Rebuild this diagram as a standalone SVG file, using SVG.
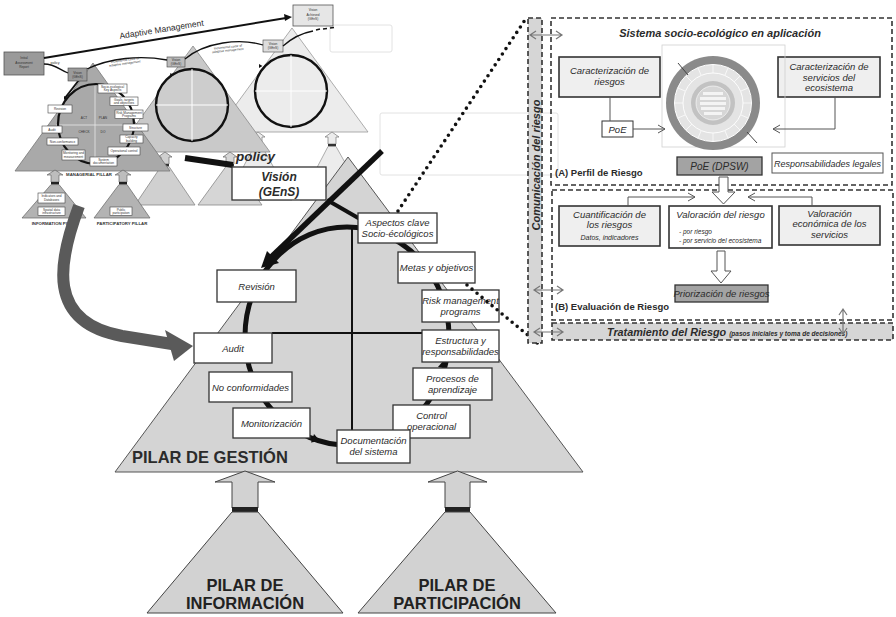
<svg xmlns="http://www.w3.org/2000/svg" xmlns:xlink="http://www.w3.org/1999/xlink" width="896" height="617" viewBox="0 0 896 617">
<defs>
<style>
text{font-family:'Liberation Sans',Arial,sans-serif;fill:#2b2b2b}
.bx{fill:#fff;stroke:#333;stroke-width:1.3}
.bxg{fill:#efefef;stroke:#333;stroke-width:1.6}
.t{font-size:9.5px;font-style:italic;text-anchor:middle}
.ts{font-size:7px;font-style:italic}
.bi{font-weight:bold;font-style:italic}
.big{font-size:16.5px;font-weight:bold;text-anchor:middle;fill:#222}
.sb{fill:#fff;stroke:#444;stroke-width:.6}
.sbd{fill:#9a9a9a;stroke:#444;stroke-width:.6}
.st{font-size:3.2px;text-anchor:middle;fill:#333}
.dash{fill:none;stroke:#333;stroke-width:1.6;stroke-dasharray:5 3}
.open{fill:none;stroke:#777;stroke-width:1.2}
.conn{fill:none;stroke:#555;stroke-width:1}
.loop{fill:none;stroke:#111;stroke-width:5}
.dots{fill:none;stroke:#111;stroke-width:3.6;stroke-linecap:round;stroke-dasharray:0 6.5}
.pil{fill:#d2d2d2;stroke:#444;stroke-width:1}
.faint{fill:none;stroke:#e2e2e2;stroke-width:1}
</style>
<path id="ah" d="M0,0 L-8,-4.5 L-8,4.5 Z" fill="#111"/>
<path id="sah" d="M0,0 L-3.5,-2 L-3.5,2 Z" fill="#111"/>
</defs>

<rect width="896" height="617" fill="#fff"/>

<!-- faint frames left over behind the drawing -->
<rect class="faint" x="380" y="113" width="178" height="62" rx="2"/>
<rect class="faint" x="330" y="25" width="62" height="27" rx="2"/>

<!-- ===== Adaptive management overview (top left) ===== -->
<g id="iteration-3">
  <polygon points="292,28 216,132 368,132" fill="#ececec" stroke="#999" stroke-width=".8"/>
  <circle cx="291" cy="91" r="36" fill="#ececec" stroke="#111" stroke-width="2.4"/>
  <line x1="255" y1="91" x2="327" y2="91" stroke="#fff" stroke-width="1"/>
  <line x1="291" y1="55" x2="291" y2="127" stroke="#fff" stroke-width="1"/>
  <polygon points="332,132 339,137 336,137 336,144 328,144 328,137 325,137" fill="#ececec" stroke="#777" stroke-width=".7"/>
  <rect x="328" y="144" width="8" height="2.5" fill="#333"/>
  <polygon points="328,146.5 336,146.5 366,200 300,200" fill="#ececec" stroke="#999" stroke-width=".8"/>
  <polygon points="258,132 265,137 262,137 262,144 254,144 254,137 251,137" fill="#ececec" stroke="#777" stroke-width=".7"/>
  <polygon points="254,146.5 262,146.5 292,200 226,200" fill="#ececec" stroke="#999" stroke-width=".8"/>
  <rect class="sb" x="263" y="40" width="20" height="12" style="fill:#ddd"/>
  <text class="st" x="273" y="45.2">Vision</text>
  <text class="st" x="273" y="49">(GEnS)</text>
  <use xlink:href="#sah" transform="translate(259,68) rotate(120)"/>
</g>

<g id="iteration-2">
  <polygon points="193,46 116,152 270,152" fill="#c9c9c9" stroke="#888" stroke-width=".8"/>
  <circle cx="192" cy="105" r="36" fill="#cdcdcd" stroke="#111" stroke-width="2.4"/>
  <line x1="156" y1="105" x2="228" y2="105" stroke="#fff" stroke-width="1"/>
  <line x1="192" y1="69" x2="192" y2="141" stroke="#fff" stroke-width="1"/>
  <polygon points="165,152 172,157 169,157 169,164 161,164 161,157 158,157" fill="#d0d0d0" stroke="#666" stroke-width=".7"/>
  <rect x="161" y="164" width="8" height="2.5" fill="#333"/>
  <polygon points="161,166.5 169,166.5 195,205 135,205" fill="#d0d0d0" stroke="#888" stroke-width=".8"/>
  <polygon points="230,152 237,157 234,157 234,164 226,164 226,157 223,157" fill="#d6d6d6" stroke="#666" stroke-width=".7"/>
  <rect x="226" y="164" width="8" height="2.5" fill="#333"/>
  <polygon points="226,166.5 234,166.5 262,205 198,205" fill="#d6d6d6" stroke="#888" stroke-width=".8"/>
  <rect class="sb" x="167" y="57" width="18" height="10" style="fill:#bbb"/>
  <text class="st" x="176" y="61.3">Vision</text>
  <text class="st" x="176" y="65">(GEnS)</text>
  <use xlink:href="#sah" transform="translate(170,77) rotate(125)"/>
</g>

<g id="managerial-pillar-overview">
  <polygon points="93,63 15,171 170,171" fill="#a9a9a9" stroke="#777" stroke-width=".8"/>
  <line x1="95" y1="86" x2="95" y2="166" stroke="#e8e8e8" stroke-width=".8"/>
  <line x1="56" y1="125" x2="132" y2="125" stroke="#e8e8e8" stroke-width=".8"/>
  <ellipse cx="96" cy="124" rx="38" ry="40" fill="none" stroke="#111" stroke-width="2.2"/>
  <line x1="79" y1="80" x2="65" y2="98" stroke="#111" stroke-width="2"/>
  <use xlink:href="#sah" transform="translate(64,100) rotate(120)"/>
  <text class="st" x="84" y="119">ACT</text>
  <text class="st" x="103" y="119">PLAN</text>
  <text class="st" x="84" y="133">CHECK</text>
  <text class="st" x="103" y="133">DO</text>
  <rect class="sbd" x="68" y="68" width="19" height="13"/>
  <text class="st" x="77.5" y="73.5">Vision</text>
  <text class="st" x="77.5" y="77.5">(GEnS)</text>
  <rect class="sb" x="98" y="84" width="29" height="9"/>
  <text class="st" x="112.5" y="87.8">Socio-ecological</text>
  <text class="st" x="112.5" y="91.3">Key Aspects</text>
  <rect class="sb" x="110" y="97" width="28" height="8.5"/>
  <text class="st" x="124" y="100.6">Goals, targets</text>
  <text class="st" x="124" y="104">and objectives</text>
  <rect class="sb" x="115" y="110" width="28" height="8.5"/>
  <text class="st" x="129" y="113.6">Risk Management</text>
  <text class="st" x="129" y="117">Programs</text>
  <rect class="sb" x="123" y="124" width="25" height="7"/>
  <text class="st" x="135.5" y="128.7">Structure</text>
  <rect class="sb" x="120" y="135" width="23" height="8"/>
  <text class="st" x="131.5" y="138.4">Capacity</text>
  <text class="st" x="131.5" y="141.8">building</text>
  <rect class="sb" x="108" y="147" width="32" height="8"/>
  <text class="st" x="124" y="152.2">Operational control</text>
  <rect class="sb" x="90" y="157" width="27" height="9"/>
  <text class="st" x="103.5" y="160.8">System</text>
  <text class="st" x="103.5" y="164.3">documentation</text>
  <rect class="sb" x="62" y="150" width="23" height="10"/>
  <text class="st" x="73.5" y="154.2">Monitoring and</text>
  <text class="st" x="73.5" y="157.8">measurement</text>
  <rect class="sb" x="47" y="138" width="31" height="7"/>
  <text class="st" x="62.5" y="142.6">Non-conformance</text>
  <rect class="sb" x="42" y="126" width="20" height="7"/>
  <text class="st" x="52" y="130.6">Audit</text>
  <rect class="sb" x="48" y="105" width="24" height="8"/>
  <text class="st" x="60" y="110">Revision</text>
  <text class="st" x="89" y="175.8" style="font-size:4.3px;font-weight:bold">MANAGERIAL PILLAR</text>
  <!-- small information and participatory pillars -->
  <polygon points="55,170 63,175 59,175 59,182 51,182 51,175 47,175" fill="#bdbdbd" stroke="#555" stroke-width=".6"/>
  <rect x="51" y="182" width="8" height="2.6" fill="#222"/>
  <polygon points="51,184.6 59,184.6 86,218 22,218" fill="#b3b3b3" stroke="#666" stroke-width=".7"/>
  <rect class="sb" x="38" y="193" width="27" height="10"/>
  <text class="st" x="51.5" y="197.2">Indicators and</text>
  <text class="st" x="51.5" y="200.8">Databases</text>
  <rect class="sb" x="38" y="207" width="27" height="8.5"/>
  <text class="st" x="51.5" y="210.6">Spatial data</text>
  <text class="st" x="51.5" y="214">infrastructure</text>
  <polygon points="123,170 131,175 127,175 127,182 119,182 119,175 115,175" fill="#bdbdbd" stroke="#555" stroke-width=".6"/>
  <rect x="119" y="182" width="8" height="2.6" fill="#222"/>
  <polygon points="119,184.6 127,184.6 150,218 94,218" fill="#b3b3b3" stroke="#666" stroke-width=".7"/>
  <rect class="sb" x="110" y="207" width="22" height="8.5"/>
  <text class="st" x="121" y="210.6">Public</text>
  <text class="st" x="121" y="214">participation</text>
  <text class="st" x="55" y="224.5" style="font-size:4.3px;font-weight:bold">INFORMATION PILLAR</text>
  <text class="st" x="122" y="224.5" style="font-size:4.3px;font-weight:bold">PARTICIPATORY PILLAR</text>
</g>

<g id="initial-assessment">
  <rect x="4" y="52" width="40" height="23" fill="#9a9a9a" stroke="#555" stroke-width=".8"/>
  <text class="st" x="24" y="59">Initial</text>
  <text class="st" x="24" y="63.5">Assessment</text>
  <text class="st" x="24" y="68">Report</text>
</g>

<g id="vision-achieved">
  <rect x="293" y="5" width="40" height="21" fill="#e6e6e6" stroke="#555" stroke-width=".8"/>
  <text class="st" x="313" y="11">Vision</text>
  <text class="st" x="313" y="15.5">Achieved</text>
  <text class="st" x="313" y="20">(GEnS)</text>
</g>

<g id="overview-connectors" fill="none" stroke="#111">
  <line x1="44" y1="58" x2="286" y2="18" stroke-width="2"/>
  <polygon points="292,17 284,14 285,21" fill="#111" stroke="none"/>
  <path d="M44,64 C55,64 60,70 68,73" stroke-width="1.3"/>
  <path d="M87,69 C110,58 140,55 167,60" stroke-width="1.3"/>
  <path d="M185,59 C205,42 240,38 263,45" stroke-width="1.3"/>
  <path d="M283,46 C292,38 302,33 313,31" stroke-width="1.3"/>
  <path d="M316,30 L320,29 M323,29 L327,28.5 M330,28 L334,27.5" stroke-width="1.5"/>
</g>
<text x="120" y="39" font-size="8.5" fill="#444" transform="rotate(-9.1 120 39)">Adaptive Management</text>
<text x="55" y="63.5" class="st" style="font-size:3.6px">policy</text>
<text class="st" x="125" y="61" transform="rotate(-8 125 61)">Incremental cycle of</text>
<text class="st" x="125" y="64.5" transform="rotate(-8 125 64.5)">adaptive management</text>
<text class="st" x="228" y="48" transform="rotate(-6 228 48)">Incremental cycle of</text>
<text class="st" x="228" y="51.5" transform="rotate(-6 228 51.5)">adaptive management</text>

<!-- ===== Managerial pillar (main triangle) ===== -->
<g id="pilar-gestion">
  <polygon points="348,157 115,472 583,472" fill="#d4d4d4" stroke="#555" stroke-width="1"/>
  <line x1="352" y1="227" x2="352" y2="432" stroke="#111" stroke-width="2"/>
  <line x1="272" y1="333" x2="422" y2="333" stroke="#111" stroke-width="2"/>
  <text x="132" y="463" font-size="16.5" font-weight="bold" fill="#222">PILAR DE GESTIÓN</text>
</g>

<!-- policy / vision links and main cycle -->
<g id="cycle-connectors">
  <ellipse class="loop" cx="347" cy="336" rx="102" ry="109"/>
  <line x1="185" y1="158" x2="233" y2="165" stroke="#111" stroke-width="6"/>
  <line x1="382" y1="151" x2="268" y2="260" stroke="#111" stroke-width="5.5"/>
  <line x1="327" y1="200" x2="360" y2="219" stroke="#111" stroke-width="4"/>
  <polygon points="261,268 279,263 267,251" fill="#111"/>
  <use xlink:href="#ah" transform="translate(320,441) rotate(20)"/>
  <use xlink:href="#ah" transform="translate(444,360) rotate(-78)"/>
</g>

<g id="vision">
  <rect class="bx" x="232" y="167" width="94" height="33"/>
  <text x="279" y="181" font-size="12" class="bi" text-anchor="middle">Visión</text>
  <text x="279" y="195.5" font-size="12" class="bi" text-anchor="middle">(GEnS)</text>
</g>
<text x="236" y="161" font-size="13.5" class="bi" fill="#222">policy</text>

<g id="aspectos"><rect class="bx" x="358" y="213" width="79" height="30"/>
  <text class="t" x="397.5" y="225.5">Aspectos clave</text><text class="t" x="397.5" y="237">Socio-écológicos</text></g>
<g id="metas"><rect class="bx" x="398" y="252" width="77" height="31"/>
  <text class="t" x="436.5" y="271">Metas y objetivos</text></g>
<g id="risk-programs"><rect class="bx" x="422" y="290" width="77" height="32"/>
  <text class="t" x="460.5" y="303.5">Risk management</text><text class="t" x="460.5" y="315">programs</text></g>
<g id="estructura"><rect class="bx" x="422" y="330" width="77" height="32"/>
  <text class="t" x="460.5" y="343.5">Estructura y</text><text class="t" x="460.5" y="355">responsabilidades</text></g>
<g id="procesos"><rect class="bx" x="413" y="368" width="79" height="32"/>
  <text class="t" x="452.5" y="381.5">Procesos de</text><text class="t" x="452.5" y="393">aprendizaje</text></g>
<g id="control"><rect class="bx" x="393" y="405" width="77" height="33"/>
  <text class="t" x="431.5" y="418.5">Control</text><text class="t" x="431.5" y="430">operacional</text></g>
<g id="documentacion"><rect class="bx" x="337" y="430" width="73" height="33"/>
  <text class="t" x="373.5" y="443.5">Documentación</text><text class="t" x="373.5" y="455">del sistema</text></g>
<g id="monitorizacion"><rect class="bx" x="233" y="408" width="77" height="30"/>
  <text class="t" x="271.5" y="426.5">Monitorización</text></g>
<g id="no-conformidades"><rect class="bx" x="209" y="372" width="83" height="30"/>
  <text class="t" x="250.5" y="390.5">No conformidades</text></g>
<g id="audit"><rect class="bx" x="194" y="333" width="78" height="30"/>
  <text class="t" x="233" y="351.5">Audit</text></g>
<g id="revision"><rect class="bx" x="217" y="270" width="79" height="32"/>
  <text class="t" x="256.5" y="289.5">Revisión</text></g>

<!-- curved link from the overview into Audit -->
<g id="overview-link">
  <path d="M79,206 C58,262 46,322 122,336 L172,344" fill="none" stroke="#5a5a5a" stroke-width="12"/>
  <polygon points="165,330 193,346 174,361" fill="#5a5a5a"/>
</g>

<!-- ===== Information and participation pillars ===== -->
<g id="pilar-informacion">
  <polygon class="pil" points="245,471 275,482 258,482 258,508 232,508 232,482 215,482"/>
  <rect x="232" y="507" width="26" height="5" fill="#222"/>
  <polygon class="pil" points="232,512 258,512 343,613 147,613"/>
  <text class="big" x="245" y="591">PILAR DE</text>
  <text class="big" x="245" y="609">INFORMACIÓN</text>
</g>
<g id="pilar-participacion">
  <polygon class="pil" points="457.5,471 487,482 470,482 470,508 445,508 445,482 428,482"/>
  <rect x="445" y="507" width="25" height="5" fill="#222"/>
  <polygon class="pil" points="445,512 470,512 556,613 358,613"/>
  <text class="big" x="457" y="591">PILAR DE</text>
  <text class="big" x="457" y="609">PARTICIPACIÓN</text>
</g>

<!-- zoom guide lines towards the risk panel -->
<g id="zoom-lines">
  <line class="dots" x1="398" y1="211" x2="527" y2="17"/>
  <line class="dots" x1="467" y1="285" x2="541" y2="346"/>
</g>

<!-- ===== Socio-ecological system panel ===== -->
<g id="comunicacion">
  <rect x="528" y="18" width="14" height="325" fill="#d6d6d6"/>
  <rect class="dash" x="528" y="18" width="14" height="325"/>
  <text x="540" y="165" font-size="11" class="bi" text-anchor="middle" fill="#333" transform="rotate(-90 540 165)">Comunicación del riesgo</text>
</g>

<g id="perfil-riesgo">
  <rect class="dash" x="551" y="18" width="341" height="167"/>
  <text x="720" y="37" font-size="11" class="bi" text-anchor="middle">Sistema socio-ecológico en aplicación</text>
  <text x="555" y="176" font-size="9.5" font-weight="bold" fill="#333">(A) Perfil de Riesgo</text>
</g>

<g id="caract-riesgos"><rect class="bxg" x="559" y="57" width="101" height="40"/>
  <text class="t" x="609.5" y="74">Caracterización de</text><text class="t" x="609.5" y="85">riesgos</text></g>
<g id="caract-servicios"><rect class="bxg" x="778" y="57" width="102" height="40"/>
  <text class="t" x="829" y="70">Caracterización de</text><text class="t" x="829" y="80.5">servicios del</text><text class="t" x="829" y="91">ecosistema</text></g>
<g id="poe"><rect class="bx" x="602" y="121" width="31" height="16" style="stroke-width:1"/>
  <text class="t" x="617.5" y="132.5">PoE</text></g>

<g id="dpsw-wheel">
  <rect x="662" y="45" width="123" height="102" fill="none" stroke="#d0d0d0" stroke-width=".8"/>
  <circle cx="713" cy="103" r="47" fill="#8a8a8a"/>
  <circle cx="713" cy="103" r="38.5" fill="#e4e4e4" stroke="#fff" stroke-width="1"/>
  <circle cx="713" cy="103" r="30" fill="none" stroke="#fff" stroke-width=".9"/>
  <g stroke="#fff" stroke-width=".7">
    <line x1="713" y1="65" x2="713" y2="73"/><line x1="713" y1="133" x2="713" y2="141"/>
    <line x1="675" y1="103" x2="683" y2="103"/><line x1="743" y1="103" x2="751" y2="103"/>
    <line x1="686" y1="76" x2="692" y2="82"/><line x1="734" y1="124" x2="740" y2="130"/>
    <line x1="740" y1="76" x2="734" y2="82"/><line x1="686" y1="130" x2="692" y2="124"/>
    <line x1="698" y1="68" x2="701" y2="75"/><line x1="728" y1="68" x2="725" y2="75"/>
    <line x1="698" y1="138" x2="701" y2="131"/><line x1="728" y1="138" x2="725" y2="131"/>
    <line x1="678" y1="88" x2="685" y2="91"/><line x1="748" y1="88" x2="741" y2="91"/>
    <line x1="678" y1="118" x2="685" y2="115"/><line x1="748" y1="118" x2="741" y2="115"/>
  </g>
  <circle cx="713" cy="103" r="22" fill="#c2c2c2"/>
  <circle cx="713" cy="103" r="17" fill="#d6d6d6" stroke="#fff" stroke-width=".6"/>
  <g fill="#f4f4f4">
    <rect x="703" y="92" width="20" height="3"/>
    <rect x="700" y="97" width="26" height="3"/>
    <rect x="700" y="102" width="26" height="3"/>
    <rect x="701" y="107" width="24" height="3"/>
    <rect x="704" y="112" width="18" height="3"/>
  </g>
  <line x1="678" y1="63" x2="688" y2="75" stroke="#444" stroke-width="1"/>
  <line x1="747" y1="132" x2="757" y2="143" stroke="#444" stroke-width="1"/>
</g>

<g id="poe-dpsw"><rect x="677" y="157" width="85" height="18" fill="#a3a3a3" stroke="#333" stroke-width="1.3"/>
  <text class="t" x="719.5" y="169.5" style="font-size:10px">PoE (DPSW)</text></g>
<g id="responsabilidades"><rect x="772" y="153" width="111" height="20" fill="#fff" stroke="#555" stroke-width="1"/>
  <text class="t" x="827.5" y="166.5" style="font-size:9px">Responsabilidades legales</text></g>

<g id="evaluacion-riesgo">
  <rect class="dash" x="552" y="190" width="341" height="130"/>
  <text x="555" y="310" font-size="9.5" font-weight="bold" fill="#333">(B) Evaluación de Riesgo</text>
</g>
<g id="cuantificacion"><rect class="bxg" x="559" y="206" width="101" height="40"/>
  <text class="t" x="609.5" y="217.5">Cuantificación de</text><text class="t" x="609.5" y="228">los riesgos</text>
  <text class="ts" x="609.5" y="240" text-anchor="middle">Datos, indicadores</text></g>
<g id="valoracion-riesgo"><rect class="bx" x="669" y="206" width="103" height="42" style="stroke-width:1.6"/>
  <text class="t" x="720.5" y="217.5">Valoración del riesgo</text>
  <text class="ts" x="679" y="234" style="font-size:6.5px">- por riesgo</text>
  <text class="ts" x="679" y="243" style="font-size:6.5px">- por servicio del ecosistema</text></g>
<g id="valoracion-economica"><rect class="bxg" x="779" y="206" width="101" height="39"/>
  <text class="t" x="829.5" y="216.5">Valoración</text><text class="t" x="829.5" y="227">económica de los</text><text class="t" x="829.5" y="237.5">servicios</text></g>
<g id="priorizacion"><rect x="675" y="285" width="93" height="17" fill="#a3a3a3" stroke="#333" stroke-width="1.3"/>
  <text class="t" x="721.5" y="297">Priorización de riesgos</text></g>

<g id="tratamiento">
  <rect x="552" y="323" width="341" height="17" fill="#d6d6d6"/>
  <rect class="dash" x="552" y="323" width="341" height="17"/>
  <text x="607" y="336" font-size="10.8" class="bi" fill="#333">Tratamiento del Riesgo <tspan font-size="6.5">(pasos iniciales y toma de decisiones)</tspan></text>
</g>

<g id="panel-connectors">
  <path class="conn" d="M610,97 V121"/>
  <path class="conn" d="M633,129 H665 M658,125 L665,129 L658,133"/>
  <path class="conn" d="M835,97 V129 H773 M780,125 L773,129 L780,133"/>
  <path class="conn" d="M628,206 V197 H695 M688,193 L695,197 L688,201"/>
  <path class="conn" d="M812,206 V197 H748 M755,193 L748,197 L755,201"/>
  <polygon points="719,177 728,177 728,192 735,192 723.5,204 712,192 719,192" fill="#fff" stroke="#555" stroke-width="1"/>
  <polygon points="717,251 725,251 725,271 731,271 721,283 711,271 717,271" fill="#fff" stroke="#555" stroke-width="1"/>
  <path class="open" d="M530,35 H562 M536,31 L530,35 L536,39 M556,31 L562,35 L556,39"/>
  <path class="open" d="M534,290 H563 M540,286 L534,290 L540,294 M557,286 L563,290 L557,294"/>
  <path class="open" d="M534,332 H563 M540,328 L534,332 L540,336 M557,328 L563,332 L557,336"/>
  <path class="open" d="M843,309 V334 M839,315 L843,309 L847,315 M839,328 L843,334 L847,328"/>
</g>
</svg>
